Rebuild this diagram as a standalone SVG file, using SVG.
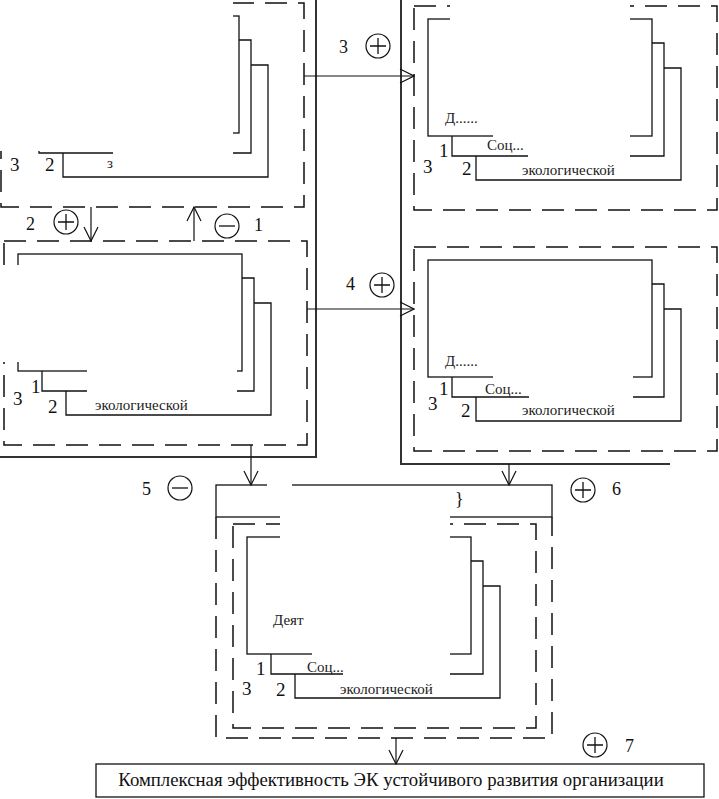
<svg xmlns="http://www.w3.org/2000/svg" xmlns:xlink="http://www.w3.org/1999/xlink" width="719" height="799" viewBox="0 0 719 799">
<style>
.ln{fill:none;stroke:#111;stroke-width:1.3}
.dash{fill:none;stroke:#111;stroke-width:1.5;stroke-dasharray:22 11}
.frame{fill:none;stroke:#333;stroke-width:2}
.occ{fill:#fff;stroke:none}
.num{font-family:"Liberation Serif","Times New Roman",serif;font-size:19px;fill:#111}
.lab{font-family:"Liberation Serif","Times New Roman",serif;font-size:18px;fill:#111}
.sm{font-family:"Liberation Serif","Times New Roman",serif;font-size:15px;fill:#222}
.big{font-family:"Liberation Serif","Times New Roman",serif;font-size:18.8px;fill:#111}
.sign{fill:#fff;stroke:#111;stroke-width:1.2}
.conn{fill:none;stroke:#111;stroke-width:1.2}
</style>
<defs>
<marker id="ah" markerUnits="userSpaceOnUse" markerWidth="16" markerHeight="16" viewBox="0 0 16 16" refX="15" refY="8" orient="auto">
<path d="M1,1 L15,8 L1,15" fill="none" stroke="#111" stroke-width="1.2"/>
</marker>
<g id="blk">
<rect x="0" y="0" width="303" height="204" class="dash"/>
<rect x="14" y="13" width="224" height="117" class="ln"/>
<polyline points="238,37 250,37 250,150 38,150 38,130" class="ln"/>
<polyline points="250,62 267,62 267,174 62,174 62,150" class="ln"/>
</g>
<g id="plus"><circle r="12" class="sign"/><path d="M-8,0H8M0,-8V8" class="ln"/></g>
<g id="minus"><circle r="12" class="sign"/><path d="M-8,0H8" class="ln"/></g>
</defs>

<!-- frames -->
<g id="frames">
<path d="M316,0 V457 H0" class="frame"/>
<path d="M401,0 V464 H670" class="frame"/>
</g>

<!-- blocks -->
<g id="block-tl">
<use xlink:href="#blk" x="1" y="3"/>
<polygon points="0,0 233,0 233,174 113,174 113,151 0,151" class="occ"/>
<text x="10" y="171" class="num">3</text>
<text x="45" y="171" class="num">2</text>
<text x="107" y="168" class="sm">з</text>
</g>

<g id="block-tr">
<use xlink:href="#blk" x="414" y="6"/>
<polygon points="450,0 630,0 630,162 528,162 528,142 493,142 493,106 450,106" class="occ"/>
<text x="439" y="157" class="num">1</text>
<text x="423" y="173" class="num">3</text>
<text x="462" y="175" class="num">2</text>
<text x="445" y="123" class="sm">Д......</text>
<text x="487" y="150" class="sm">Соц...</text>
<text x="522" y="175" class="sm">экологической</text>
</g>

<g id="block-ml">
<use xlink:href="#blk" x="4" y="241"/>
<polygon points="0,265 237,265 237,399 87,399 87,362 0,362" class="occ"/>
<text x="31" y="393" class="num">1</text>
<text x="13" y="405" class="num">3</text>
<text x="48" y="413" class="num">2</text>
<text x="95" y="410" class="sm">экологической</text>
</g>

<g id="block-mr">
<use xlink:href="#blk" x="414" y="247"/>
<polygon points="470,264 633,264 633,402 529,402 529,382 493,382 493,347 450,347 450,290 470,290" class="occ"/>
<text x="439" y="395" class="num">1</text>
<text x="428" y="410" class="num">3</text>
<text x="461" y="417" class="num">2</text>
<text x="445" y="366" class="sm">Д......</text>
<text x="485" y="394" class="sm">Соц...</text>
<text x="522" y="415" class="sm">экологической</text>
</g>

<g id="block-b">
<rect x="216" y="485" width="336" height="32" class="ln"/>
<path d="M216,517 V738 H552 V517" class="dash"/>
<use xlink:href="#blk" x="233" y="524"/>
<polygon points="267,481 292,481 292,502 450,502 450,682 343,682 343,662 312,662 312,606 280,606 280,502 267,502" class="occ"/>
<text x="455" y="505" class="lab">}</text>
<text x="256" y="675" class="num">1</text>
<text x="242" y="695" class="num">3</text>
<text x="276" y="696" class="num">2</text>
<text x="273" y="625" class="sm">Деят</text>
<text x="307" y="672" class="sm">Соц...</text>
<text x="340" y="694" class="sm">экологической</text>
</g>

<g id="result">
<rect x="96" y="764" width="608" height="33" class="ln"/>
<text x="391" y="786" text-anchor="middle" class="big">Комплексная эффективность ЭК устойчивого развития организации</text>
</g>

<!-- connectors -->
<g id="connectors">
<line x1="304" y1="76" x2="414" y2="76" class="conn" marker-end="url(#ah)"/>
<line x1="307" y1="309" x2="414" y2="309" class="conn" marker-end="url(#ah)"/>
<line x1="91" y1="207" x2="91" y2="241" class="conn" marker-end="url(#ah)"/>
<line x1="194" y1="241" x2="194" y2="207" class="conn" marker-end="url(#ah)"/>
<line x1="251" y1="445" x2="251" y2="485" class="conn" marker-end="url(#ah)"/>
<line x1="509" y1="464" x2="509" y2="485" class="conn" marker-end="url(#ah)"/>
<line x1="396" y1="738" x2="396" y2="764" class="conn" marker-end="url(#ah)"/>
</g>

<g id="signs">
<text x="26" y="230" class="lab">2</text>
<use xlink:href="#plus" x="66" y="222"/>
<use xlink:href="#minus" x="227" y="226"/>
<text x="254" y="231" class="lab">1</text>
<text x="339" y="53" class="lab">3</text>
<use xlink:href="#plus" x="378" y="46"/>
<text x="346" y="290" class="lab">4</text>
<use xlink:href="#plus" x="382" y="285"/>
<text x="142" y="495" class="lab">5</text>
<use xlink:href="#minus" x="180" y="488"/>
<use xlink:href="#plus" x="583" y="490"/>
<text x="612" y="495" class="lab">6</text>
<use xlink:href="#plus" x="595" y="745"/>
<text x="625" y="752" class="lab">7</text>
</g>
</svg>
